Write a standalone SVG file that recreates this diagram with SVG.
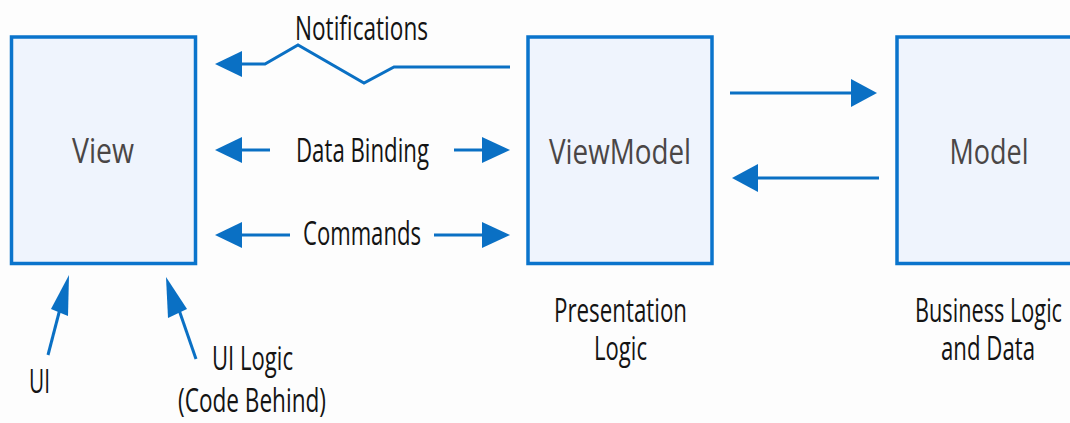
<svg xmlns="http://www.w3.org/2000/svg" width="1070" height="423" viewBox="0 0 1070 423">
  <style>
    .box { fill: #eff4fd; stroke: #0a74cc; stroke-width: 3.5; }
    .name { font-family: "Open Sans", "Liberation Sans", sans-serif; font-size: 34px; fill: #4a4646; text-anchor: middle; }
    .lbl { font-family: "Open Sans", "Liberation Sans", sans-serif; font-size: 32px; fill: #141414; }
    .wire { fill: none; stroke: #0a70c4; stroke-width: 3; }
    .head { fill: #0a70c4; }
  </style>
  <rect width="1070" height="423" fill="#fdfdfd"/>

  <g id="view">
    <rect class="box" x="11.5" y="37" width="184" height="226.5"/>
    <text class="name" x="103" y="163" textLength="62" lengthAdjust="spacingAndGlyphs">View</text>
  </g>
  <g id="viewmodel">
    <rect class="box" x="528" y="37" width="184" height="226.5"/>
    <text class="name" x="620" y="164" textLength="142" lengthAdjust="spacingAndGlyphs">ViewModel</text>
  </g>
  <g id="model">
    <rect class="box" x="897" y="37" width="200" height="226.5"/>
    <text class="name" x="989" y="164" textLength="79" lengthAdjust="spacingAndGlyphs">Model</text>
  </g>

  <g id="connectors">
    <!-- Notifications: ViewModel -> View -->
    <polyline class="wire" points="510,67 394,67 364,83 298,45 265,64 240,64"/>
    <polygon class="head" points="215,64 242,51 242,77"/>
    <!-- Data Binding -->
    <line class="wire" x1="240" y1="150" x2="270" y2="150"/>
    <polygon class="head" points="215,150 242,137 242,163"/>
    <line class="wire" x1="454" y1="150" x2="484" y2="150"/>
    <polygon class="head" points="510,150 482,137 482,163"/>
    <!-- Commands -->
    <line class="wire" x1="240" y1="235" x2="290" y2="235"/>
    <polygon class="head" points="215,235 242,222 242,248"/>
    <line class="wire" x1="434" y1="235" x2="484" y2="235"/>
    <polygon class="head" points="510,235 482,222 482,248"/>
    <!-- ViewModel <-> Model -->
    <line class="wire" x1="730" y1="93" x2="853" y2="93"/>
    <polygon class="head" points="877,93 851,79 851,107"/>
    <line class="wire" x1="756" y1="178" x2="879" y2="178"/>
    <polygon class="head" points="732,178 758,164 758,192"/>
    <!-- UI pointer -->
    <line class="wire" x1="48" y1="355" x2="61" y2="305"/>
    <polygon class="head" points="69,275 51,309 68,316"/>
    <!-- UI Logic pointer -->
    <line class="wire" x1="196" y1="359" x2="178" y2="307"/>
    <polygon class="head" points="166,277 168,318 187,309"/>
  </g>

  <g id="labels">
    <text class="lbl" x="295" y="40" textLength="133" lengthAdjust="spacingAndGlyphs">Notifications</text>
    <text class="lbl" x="296" y="162" textLength="133" lengthAdjust="spacingAndGlyphs">Data Binding</text>
    <text class="lbl" x="303" y="245" textLength="118" lengthAdjust="spacingAndGlyphs">Commands</text>
    <text class="lbl" x="29" y="393" textLength="21" lengthAdjust="spacingAndGlyphs">UI</text>
    <text class="lbl" x="212" y="370" textLength="81" lengthAdjust="spacingAndGlyphs">UI Logic</text>
    <text class="lbl" x="178" y="412" textLength="148" lengthAdjust="spacingAndGlyphs">(Code Behind)</text>
    <text class="lbl" x="554" y="322" textLength="133" lengthAdjust="spacingAndGlyphs">Presentation</text>
    <text class="lbl" x="594" y="360" textLength="53" lengthAdjust="spacingAndGlyphs">Logic</text>
    <text class="lbl" x="915" y="322" textLength="147" lengthAdjust="spacingAndGlyphs">Business Logic</text>
    <text class="lbl" x="941" y="360" textLength="94" lengthAdjust="spacingAndGlyphs">and Data</text>
  </g>
</svg>
